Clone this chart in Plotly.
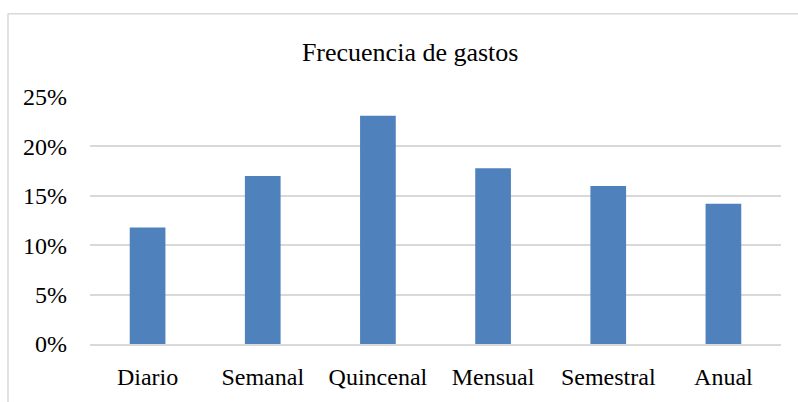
import plotly.graph_objects as go

categories = ["Diario", "Semanal", "Quincenal", "Mensual", "Semestral", "Anual"]
values = [0.118, 0.170, 0.231, 0.178, 0.160, 0.142]
y_ticks = [0, 0.05, 0.10, 0.15, 0.20, 0.25]
y_tick_labels = ["0%", "5%", "10%", "15%", "20%", "25%"]

font_family = "Liberation Serif"

fig = go.Figure(go.Bar(x=categories, y=values, marker=dict(color="#4F81BD", line=dict(width=0)),
                       hoverinfo="skip"))

fig.update_layout(
    width=798, height=402,
    margin=dict(l=90, r=17, t=97, b=54),
    paper_bgcolor="white", plot_bgcolor="white",
    bargap=0.69,
    showlegend=False,
    title=dict(text="Frecuencia de gastos", x=0.514, xanchor="center", y=0.871, yanchor="middle",
               font=dict(family=font_family, size=26, color="black")),
    font=dict(family=font_family, size=24, color="black"),
    xaxis=dict(showline=True, linecolor="#d9d9d9", linewidth=1.5, ticks="", showgrid=False,
               ticklabelstandoff=10, tickfont=dict(family=font_family, size=24, color="black")),
    yaxis=dict(range=[0, 0.25], tickvals=y_ticks, ticktext=y_tick_labels, showgrid=True,
               gridcolor="#d9d9d9", gridwidth=1.5, zeroline=False, ticks="",
               ticklabelstandoff=22, tickfont=dict(family=font_family, size=24, color="black")),
    shapes=[
        dict(type="line", xref="paper", yref="paper", x0=-0.1187, x1=-0.1187, y0=-0.3, y1=1.3367,
             line=dict(color="#d9d9d9", width=1.5)),
        dict(type="line", xref="paper", yref="paper", x0=-0.1187, x1=1.05, y0=1.3367, y1=1.3367,
             line=dict(color="#d9d9d9", width=1.5)),
    ],
)

fig.write_html("out.html", config={"displayModeBar": False},
               post_script="document.body.style.margin='0';")
